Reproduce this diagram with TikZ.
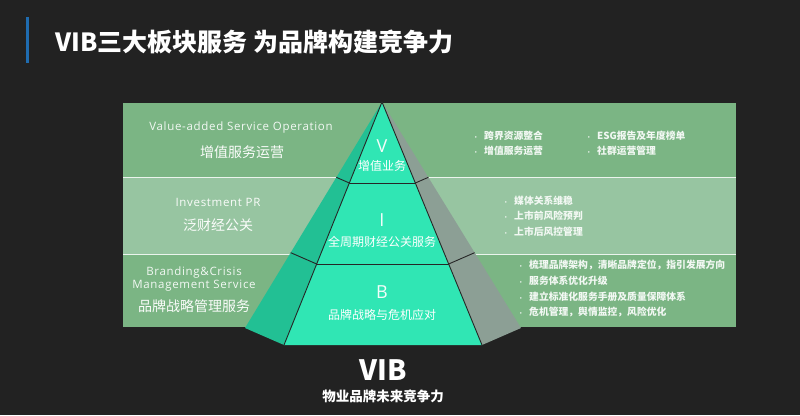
\documentclass[tikz,border=0pt]{standalone}
\usepackage{fontspec}
\setmainfont{Noto Sans CJK SC}
\newfontfamily\latinfont{Open Sans}[LetterSpace=6]
\newfontfamily\tierfont{Open Sans}
\usetikzlibrary{calc}
\definecolor{slidebg}{HTML}{222222}
\definecolor{bandgreen}{HTML}{7BB584}
\definecolor{bandlight}{HTML}{97C5A1}
\definecolor{frontteal}{HTML}{30E6B4}
\definecolor{sideteal}{HTML}{22C094}
\definecolor{sidegray}{HTML}{8C9F95}
\definecolor{titlebar}{HTML}{1F6CB0}
\tikzstyle{sepline}=[draw=white!85!bandgreen, line width=1pt]
\tikzstyle{edge}=[draw=black!85, line width=0.9pt]
\newcommand{\bitem}[1]{\makebox[11pt][l]{\fontsize{5.5}{5.5}\selectfont •}#1}

\begin{document}
\begin{tikzpicture}[x=1pt,y=-1pt]
  \tikzstyle{titletext}=[font=\bfseries\fontsize{25}{27}\selectfont, text=white, inner sep=0pt]
  \tikzstyle{engl}=[font=\latinfont\fontsize{11.5}{13}\selectfont, text=white!90!bandgreen, inner sep=0pt]
  \tikzstyle{chin}=[font=\fontsize{14}{16}\selectfont, text=white!96!bandgreen, inner sep=0pt]
  \tikzstyle{tier}=[font=\tierfont\fontsize{18}{18}\selectfont, text=white!94!frontteal, inner sep=0pt]
  \tikzstyle{tiername}=[font=\fontsize{12}{14}\selectfont, text=white, inner sep=0pt]
  \tikzstyle{points}=[font=\bfseries\fontsize{9.8}{11}\selectfont, text=white!90!bandgreen, inner sep=0pt, anchor=west]
  \useasboundingbox (0,0) rectangle (800,415);
  \fill[slidebg] (0,0) rectangle (800,415);
  \fill[titlebar] (26,17) rectangle (29,63);
  \node[titletext, anchor=west] (title) at (55,42) {VIB三大板块服务 为品牌构建竞争力};
  % bands
  \fill[bandgreen] (123,103) rectangle (736,177);
  \fill[bandlight] (123,177) rectangle (736,254);
  \fill[bandgreen] (123,254) rectangle (736,327);
  \draw[sepline] (123,177) -- (736,177);
  \draw[sepline] (123,254) -- (736,254);
  % pyramid
  \coordinate (apex) at (382,102);
  \coordinate (leftback) at (245,328);
  \coordinate (frontleft) at (284,345);
  \coordinate (frontright) at (482,345);
  \coordinate (rightback) at (521,328);
  \fill[sideteal] (apex) -- (leftback) -- (frontleft) -- cycle;
  \fill[sidegray] (apex) -- (frontright) -- (rightback) -- cycle;
  \fill[frontteal] (apex) -- (frontleft) -- (frontright) -- cycle;
  \draw[edge] (frontleft) -- (apex) -- (frontright);
  \draw[edge] ($(apex)!1/3!(frontleft)$) -- ($(apex)!1/3!(frontright)$);
  \draw[edge] ($(apex)!2/3!(frontleft)$) -- ($(apex)!2/3!(frontright)$);
  \draw[edge] ($(apex)!1/3!(leftback)$) -- ($(apex)!1/3!(frontleft)$);
  \draw[edge] ($(apex)!2/3!(leftback)$) -- ($(apex)!2/3!(frontleft)$);
  \draw[edge] ($(apex)!1/3!(frontright)$) -- ($(apex)!1/3!(rightback)$);
  \draw[edge] ($(apex)!2/3!(frontright)$) -- ($(apex)!2/3!(rightback)$);
  % left labels
  \node[engl] (valuelabel) at (241,128) {Value-added Service Operation};
  \node[chin] (valuecn) at (242,152) {增值服务运营};
  \node[engl, text=white!95!bandlight] (investlabel) at (218,202) {Investment PR};
  \node[chin] (investcn) at (218,225) {泛财经公关};
  \node[engl] (brandlabel) at (194,273) {Branding\&Crisis};
  \node[engl] (managelabel) at (194,286) {Management Service};
  \node[chin] (brandcn) at (194,306) {品牌战略管理服务};
  % pyramid labels
  \node[tier] (vtier) at (382,146) {V};
  \node[tiername] (vname) at (382,166) {增值业务};
  \node[tier] (itier) at (382,220) {I};
  \node[tiername] (iname) at (382,242) {全周期财经公关服务};
  \node[tier] (btier) at (382,292) {B};
  \node[tiername] (bname) at (382,315) {品牌战略与危机应对};
  % right bullet points
  \node[points] (vpointa) at (473,136) {\bitem{跨界资源整合}};
  \node[points] (vpointb) at (473,151) {\bitem{增值服务运营}};
  \node[points] (vpointc) at (586,136) {\bitem{ESG报告及年度榜单}};
  \node[points] (vpointd) at (586,151) {\bitem{社群运营管理}};
  \node[points] (ipointa) at (503,201) {\bitem{媒体关系维稳}};
  \node[points] (ipointb) at (503,216) {\bitem{上市前风险预判}};
  \node[points] (ipointc) at (503,232) {\bitem{上市后风控管理}};
  \node[points] (bpointa) at (518,265) {\bitem{梳理品牌架构，清晰品牌定位，指引发展方向}};
  \node[points] (bpointb) at (518,281) {\bitem{服务体系优化升级}};
  \node[points] (bpointc) at (518,297) {\bitem{建立标准化服务手册及质量保障体系}};
  \node[points] (bpointd) at (518,312) {\bitem{危机管理，舆情监控，风险优化}};
  % bottom caption
  \node[font=\bfseries\fontsize{28}{30}\selectfont, text=white, inner sep=0pt] (viblabel) at (383,370) {VIB};
  \node[font=\bfseries\fontsize{13.5}{15}\selectfont, text=white, inner sep=0pt] (vibcn) at (383,396) {物业品牌未来竞争力};
\end{tikzpicture}
\end{document}
